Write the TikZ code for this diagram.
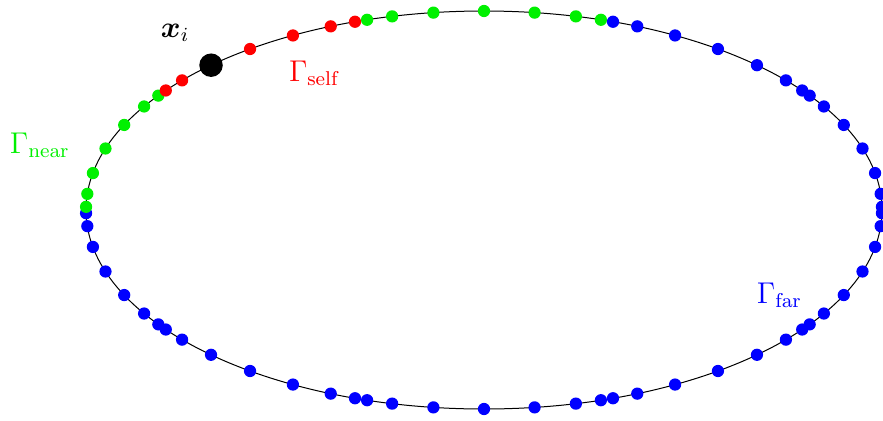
\documentclass[tikz,border=0pt]{standalone}
\usepackage{amsmath,bm}
\usetikzlibrary{calc}
\definecolor{nearcol}{RGB}{0,240,0}
\tikzset{
  dot/.style={circle,inner sep=0pt,minimum size=4.9pt,draw=none},
  bigdot/.style={circle,inner sep=0pt,minimum size=9.4pt,fill=black,draw=none},
  lab/.style={anchor=base west,inner sep=0pt,outer sep=0pt,font=\fontsize{11.5pt}{14pt}\selectfont}
}
\begin{document}
\begin{tikzpicture}[x=0.4pt,y=-0.4pt]
\useasboundingbox (0,0) rectangle (883,421);
\draw[line width=0.4pt] (484,210) ellipse [x radius=398, y radius=199];
% blue panels first
\foreach \c in {198,234,270,306,342,18}{
  \foreach \s [count=\j] in {-0.949108,-0.741531,-0.405845,0,0.405845,0.741531,0.949108}{
    \pgfmathsetmacro{\t}{\c+18*\s}
    \node[dot,fill=blue] (b-\c-\j) at ({484+398*cos(\t)},{210-199*sin(\t)}) {};
  }
}
% near panel (left)
\foreach \s [count=\j] in {-0.949108,-0.741531,-0.405845,0,0.405845,0.741531,0.949108}{
  \pgfmathsetmacro{\t}{162+18*\s}
  \node[dot,fill=nearcol] (nl-\j) at ({484+398*cos(\t)},{210-199*sin(\t)}) {};
}
% self panel
\foreach \s [count=\j] in {-0.949108,-0.741531,-0.405845,0,0.405845,0.741531,0.949108}{
  \pgfmathsetmacro{\t}{126+18*\s}
  \node[dot,fill=red] (s-\j) at ({484+398*cos(\t)},{210-199*sin(\t)}) {};
}
% near panel (top)
\foreach \s [count=\j] in {-0.949108,-0.741531,-0.405845,0,0.405845,0.741531,0.949108}{
  \pgfmathsetmacro{\t}{90+18*\s}
  \node[dot,fill=nearcol] (nt-\j) at ({484+398*cos(\t)},{210-199*sin(\t)}) {};
}
% far panel 54
\foreach \s [count=\j] in {-0.949108,-0.741531,-0.405845,0,0.405845,0.741531,0.949108}{
  \pgfmathsetmacro{\t}{54+18*\s}
  \node[dot,fill=blue] (f-\j) at ({484+398*cos(\t)},{210-199*sin(\t)}) {};
}
% target point
\node[bigdot] (xi) at (s-5) {};
\node[lab] (xilab) at (161,37) {$\bm{x}_i$};
\node[lab,text=red] (gself) at (289,81) {$\Gamma_{\mathrm{self}}$};
\node[lab,text=nearcol] (gnear) at (10,153) {$\Gamma_{\mathrm{near}}$};
\node[lab,text=blue] (gfar) at (757,303) {$\Gamma_{\mathrm{far}}$};
\end{tikzpicture}
\end{document}
